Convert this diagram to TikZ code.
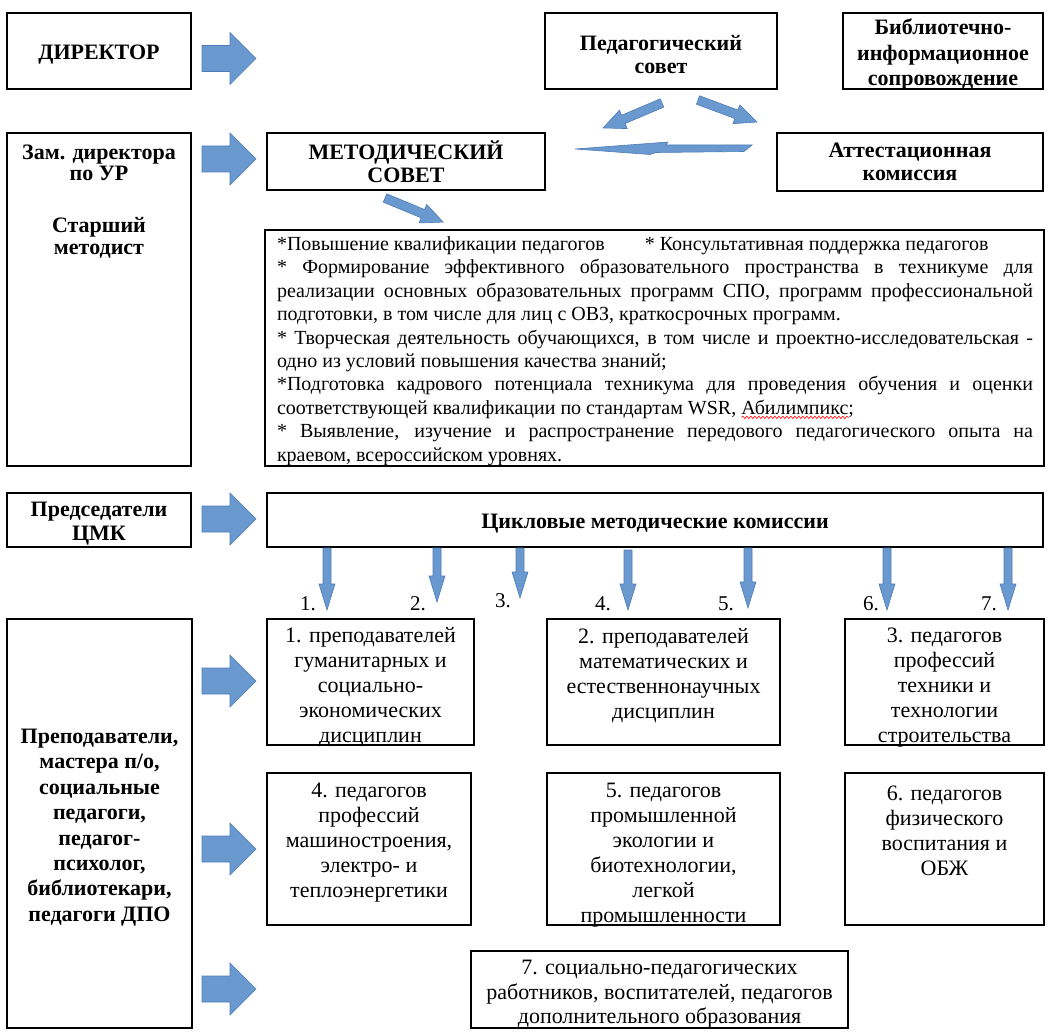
\documentclass[tikz,border=0pt]{standalone}
\usepackage{fontspec}
\setmainfont{Liberation Serif}
\usetikzlibrary{decorations.pathmorphing}
\definecolor{arrowblue}{RGB}{106,153,208}
\definecolor{arrowedge}{RGB}{78,124,184}
\newlength\wavylen
\newcommand\jl[1]{\makebox[756pt][s]{#1}}
\newcommand\plainline[1]{\makebox[756pt][l]{#1}}
\newcommand\wavyword[1]{\settowidth\wavylen{#1}\rlap{\raisebox{-4.5pt}{\tikz\draw[red, line width=0.6pt, decorate, decoration={snake, amplitude=1.2pt, segment length=4pt}] (0pt,0pt) -- (\wavylen,0pt);}}#1}
\newcommand\boxnode[5]{\node[box, minimum width={(#4)-(#2)}, minimum height={(#5)-(#3)}] (#1) at ({((#2)+(#4))/2},{((#3)+(#5))/2}) {};}
\newcommand\rarrow[2]{\draw[barrow] (#1,#2-13) -- (#1+28,#2-13) -- (#1+28,#2-26) -- (#1+54,#2) -- (#1+28,#2+26) -- (#1+28,#2+13) -- (#1,#2+13) -- cycle;}
\newcommand\darrow[3]{\draw[barrow] (#1-4,#2) -- (#1+4,#2) -- (#1+4,#3-26) -- (#1+8,#3-26) -- (#1,#3) -- (#1-8,#3-26) -- (#1-4,#3-26) -- cycle;}
\newcommand\sarrow[4]{\begin{scope}[shift={(#1,#2)}, rotate=#3]
\draw[barrow] (0,-4.5) -- (#4-22,-4.5) -- (#4-22,-10) -- (#4,0) -- (#4-22,10) -- (#4-22,4.5) -- (0,4.5) -- cycle;
\end{scope}}
\begin{document}
\begin{tikzpicture}[x=1pt,y=-1pt,
  box/.style={draw, line width=2.3pt, inner sep=0pt},
  btxt/.style={font=\fontsize{22}{23}\selectfont\bfseries, align=center, inner sep=0pt},
  ntxt/.style={font=\fontsize{22}{25}\selectfont, align=center, inner sep=0pt},
  barrow/.style={fill=arrowblue, draw=arrowedge, line width=0.6pt, line join=miter}]
\useasboundingbox (0,0) rectangle (1052,1032);
\fill[white] (0,0) rectangle (1052,1032);
% boxes
\boxnode{dir}{7}{13}{191}{89}
\boxnode{ped}{545}{13}{777}{89}
\boxnode{bib}{843}{13}{1043}{89}
\boxnode{zam}{7}{133}{191}{466}
\boxnode{met}{267}{133}{545}{190}
\boxnode{att}{777}{133}{1043}{191}
\boxnode{goalbox}{265}{230}{1044}{466}
\boxnode{pred}{7}{493}{191}{547}
\boxnode{cyc}{267}{493}{1043}{547}
\boxnode{prep}{7}{619}{192}{1028}
\boxnode{b1}{267}{619}{474}{745}
\boxnode{b2}{547}{619}{780}{745}
\boxnode{b3}{845}{619}{1044}{745}
\boxnode{b4}{267}{773}{471}{925}
\boxnode{b5}{547}{773}{780}{925}
\boxnode{b6}{845}{773}{1044}{925}
\boxnode{b7}{471}{951}{848}{1028}
% bold texts
\node[btxt] (tdir) at (99,54.5) {ДИРЕКТОР};
\node[btxt, font=\fontsize{22}{23.5}\selectfont\bfseries] (tped) at (661,54.5) {Педагогический\\совет};
\node[btxt, font=\fontsize{22}{25.5}\selectfont\bfseries] (tbib) at (943,54.5) {Библиотечно-\\информационное\\сопровождение};
\node[btxt, font=\fontsize{22}{21.5}\selectfont\bfseries] (tzam1) at (99,163) {Зам. директора\\по УР};
\node[btxt, font=\fontsize{22}{22}\selectfont\bfseries] (tzam2) at (99,238) {Старший\\методист};
\node[btxt, font=\fontsize{22}{22.5}\selectfont\bfseries] (tmet) at (406,161.5) {МЕТОДИЧЕСКИЙ\\СОВЕТ};
\node[btxt, font=\fontsize{22}{23.5}\selectfont\bfseries] (tatt) at (910,162) {Аттестационная\\комиссия};
\node[btxt, font=\fontsize{22}{24}\selectfont\bfseries] (tpred) at (99,524) {Председатели\\ЦМК};
\node[btxt] (tcyc) at (655,523.5) {Цикловые методические комиссии};
\node[btxt, font=\fontsize{22}{25.4}\selectfont\bfseries] (tprep) at (99.5,827.5) {Преподаватели,\\мастера п/о,\\социальные\\педагоги,\\педагог-\\психолог,\\библиотекари,\\педагоги ДПО};
% goals text
\node[inner sep=0pt, align=left, font=\fontsize{20}{23.44}\selectfont] (goals) at (655,351) {%
\plainline{*Повышение квалификации педагогов\hspace{40pt}* Консультативная поддержка педагогов}\\
\jl{* Формирование эффективного образовательного пространства в техникуме для}\\
\jl{реализации основных образовательных программ СПО, программ профессиональной}\\
\plainline{подготовки, в том числе для лиц с ОВЗ, краткосрочных программ.}\\
\jl{* Творческая деятельность обучающихся, в том числе и проектно-исследовательская -}\\
\plainline{одно из условий повышения качества знаний;}\\
\jl{*Подготовка кадрового потенциала техникума для проведения обучения и оценки}\\
\plainline{соответствующей квалификации по стандартам WSR, \wavyword{Абилимпикс};}\\
\jl{* Выявление, изучение и распространение передового педагогического опыта на}\\
\plainline{краевом, всероссийском уровнях.}};
% commission boxes text
\node[ntxt] (t1) at (370.5,687.5) {1. преподавателей\\гуманитарных и\\социально-\\экономических\\дисциплин};
\node[ntxt] (t2) at (663.5,675.5) {2. преподавателей\\математических и\\естественнонаучных\\дисциплин};
\node[ntxt] (t3) at (944.5,687.5) {3. педагогов\\профессий\\техники и\\технологии\\строительства};
\node[ntxt] (t4) at (369,842.5) {4. педагогов\\профессий\\машиностроения,\\электро- и\\теплоэнергетики};
\node[ntxt] (t5) at (663.5,855) {5. педагогов\\промышленной\\экологии и\\биотехнологии,\\легкой\\промышленности};
\node[ntxt] (t6) at (944.5,830.5) {6. педагогов\\физического\\воспитания и\\ОБЖ};
\node[ntxt, font=\fontsize{22}{24.5}\selectfont] (t7) at (659.5,994.5) {7. социально-педагогических\\работников, воспитателей, педагогов\\дополнительного образования};
% number labels
\node[ntxt, font=\fontsize{21}{25}\selectfont] (n1) at (308,604) {1.};
\node[ntxt, font=\fontsize{21}{25}\selectfont] (n2) at (418,604) {2.};
\node[ntxt, font=\fontsize{21}{25}\selectfont] (n3) at (503,601) {3.};
\node[ntxt, font=\fontsize{21}{25}\selectfont] (n4) at (603,604) {4.};
\node[ntxt, font=\fontsize{21}{25}\selectfont] (n5) at (726,604) {5.};
\node[ntxt, font=\fontsize{21}{25}\selectfont] (n6) at (871,604) {6.};
\node[ntxt, font=\fontsize{21}{25}\selectfont] (n7) at (989,604) {7.};
% big right arrows
\rarrow{202}{58.5}
\rarrow{202}{159}
\rarrow{202}{519}
\rarrow{202}{681}
\rarrow{202}{849}
\rarrow{202}{989}
% diagonal arrows
\sarrow{662}{103}{202.96}{64}
\sarrow{698}{100}{-20.45}{63}
\sarrow{385}{198}{-22.5}{63}
% long left arrow
\draw[barrow] (575,149) -- (668,142) -- (666,145) -- (752,145) -- (744,151.5) -- (656,152.5) -- (650,154.5) -- cycle;
% down arrows
\darrow{327}{548}{610}
\darrow{437}{548}{602}
\darrow{520}{548}{598}
\darrow{628}{550}{610}
\darrow{748}{548}{608}
\darrow{887}{548}{610}
\darrow{1008}{548}{610}
\end{tikzpicture}
\end{document}
